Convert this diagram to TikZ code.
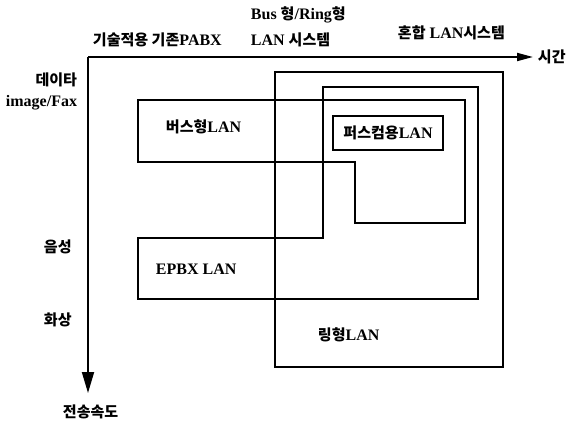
\documentclass[tikz,border=0pt]{standalone}
\usepackage{fontspec}
\setmainfont{Liberation Serif}
\newfontfamily\kr[Scale=0.94]{Noto Sans CJK KR}
\usetikzlibrary{arrows.meta}
\begin{document}
\begin{tikzpicture}[x=1pt,y=-1pt,line width=1.9pt,
  lbl/.style={inner sep=0pt,font=\fontsize{16}{18}\selectfont\bfseries},
  box/.style={draw=black,line width=1.9pt}]
\useasboundingbox (0,0) rectangle (579,425);
% axes
\coordinate (O) at (88,57);
\coordinate (xend) at (533,57);
\coordinate (yend) at (88,393);
\draw[-{Triangle[length=16pt,width=8pt]}] (O) -- (xend);
\draw[-{Triangle[length=21pt,width=12pt]}] (O) -- (yend);
% ring LAN
\draw[box] (275,72) rectangle (503,367);
% hybrid system incl. EPBX
\draw[box] (138,238) -- (323,238) -- (323,87) -- (478,87) -- (478,299) -- (138,299) -- cycle;
% bus LAN
\draw[box] (138,100) -- (465,100) -- (465,223) -- (355,223) -- (355,162) -- (138,162) -- cycle;
% PC LAN
\draw[box] (333,116) rectangle (443,150);
% labels
\node[lbl,anchor=west] (t1) at (92,40) {{\kr 기술적용 기존}PABX};
\node[lbl,anchor=west] (t2) at (250,15) {Bus {\kr 형}/Ring{\kr 형}};
\node[lbl,anchor=west] (t3) at (250,40) {LAN {\kr 시스템}};
\node[lbl,anchor=west] (t4) at (397,33) {{\kr 혼합} LAN{\kr 시스템}};
\node[lbl,anchor=west] (t5) at (537,57) {\kr 시간};
\node[lbl,anchor=east] (t6) at (78,80) {\kr 데이타};
\node[lbl,anchor=east] (t7) at (78,103) {image/Fax};
\node[lbl,anchor=west] (t8) at (43,247) {\kr 음성};
\node[lbl,anchor=west] (t9) at (43,320) {\kr 화상};
\node[lbl,anchor=west] (t10) at (62,412) {\kr 전송속도};
\node[lbl,anchor=west] (t11) at (165,127) {{\kr 버스형}LAN};
\node[lbl,anchor=west] (t12) at (155,269) {EPBX LAN};
\node[lbl] (t13) at (388,133) {{\kr 퍼스컴용}LAN};
\node[lbl,anchor=west] (t14) at (317,335) {{\kr 링형}LAN};
\end{tikzpicture}
\end{document}
